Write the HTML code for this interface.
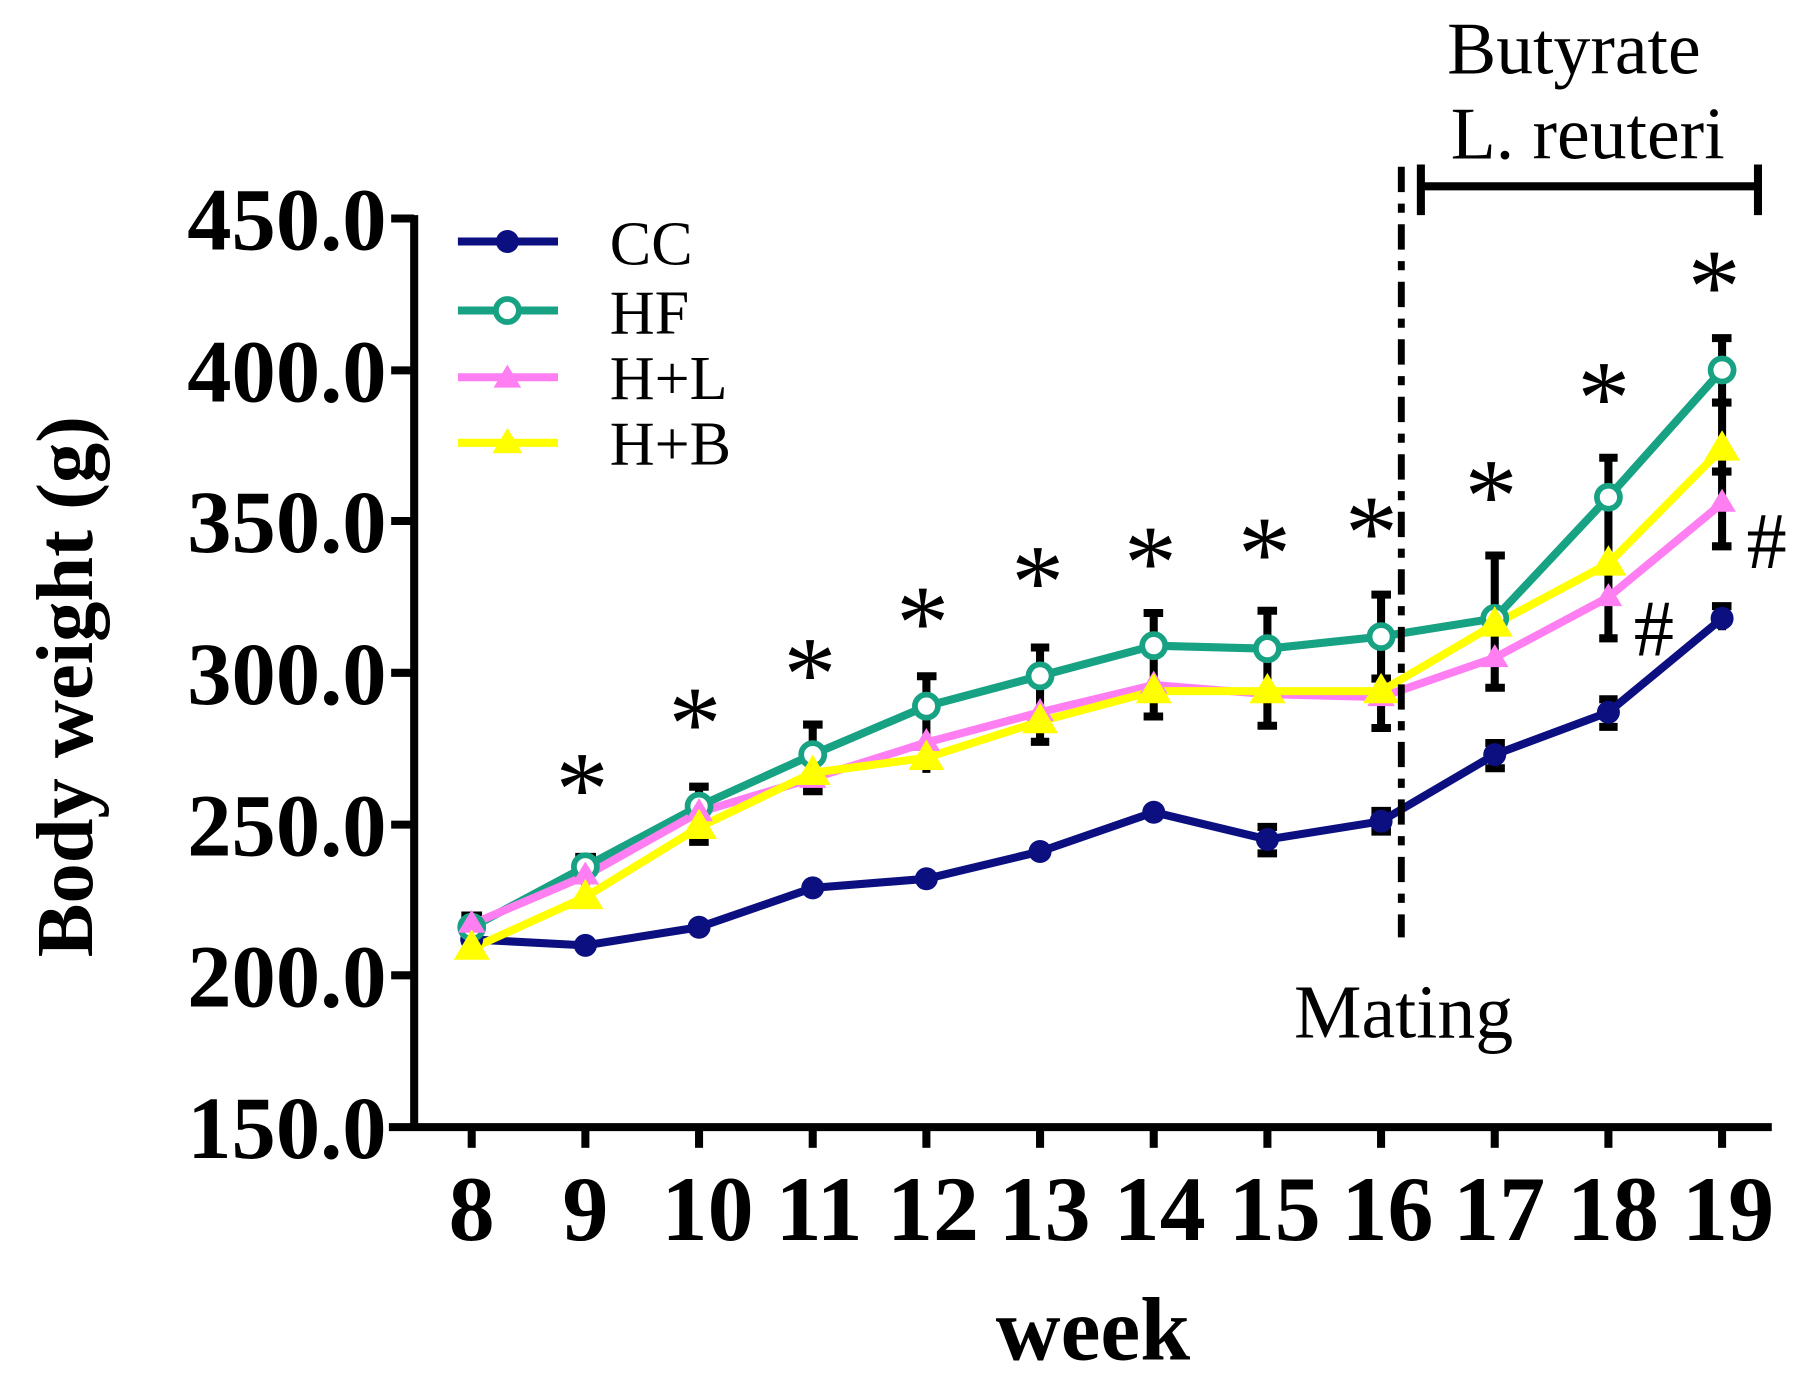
<!DOCTYPE html>
<html><head><meta charset="utf-8"><style>html,body{margin:0;padding:0;background:#fff}svg{display:block}</style></head>
<body>
<svg width="1804" height="1379" viewBox="0 0 1568 1199" preserveAspectRatio="none" xmlns="http://www.w3.org/2000/svg" font-family="'Liberation Serif', serif">
<rect width="1568" height="1199" fill="#fff"/>
<g stroke="#000" stroke-width="7" fill="none">
<line x1="360" y1="187" x2="360" y2="983"/>
<line x1="338" y1="980" x2="1540" y2="980"/>
<line x1="340" y1="190" x2="360" y2="190"/><line x1="340" y1="322" x2="360" y2="322"/>
<line x1="340" y1="453" x2="360" y2="453"/><line x1="340" y1="585" x2="360" y2="585"/>
<line x1="340" y1="717" x2="360" y2="717"/><line x1="340" y1="848" x2="360" y2="848"/>
<line x1="410" y1="980" x2="410" y2="998"/><line x1="508.8" y1="980" x2="508.8" y2="998"/>
<line x1="607.6" y1="980" x2="607.6" y2="998"/><line x1="706.4" y1="980" x2="706.4" y2="998"/>
<line x1="805.2" y1="980" x2="805.2" y2="998"/><line x1="904" y1="980" x2="904" y2="998"/>
<line x1="1002.8" y1="980" x2="1002.8" y2="998"/><line x1="1101.6" y1="980" x2="1101.6" y2="998"/>
<line x1="1200.4" y1="980" x2="1200.4" y2="998"/><line x1="1299.2" y1="980" x2="1299.2" y2="998"/>
<line x1="1398" y1="980" x2="1398" y2="998"/><line x1="1496.8" y1="980" x2="1496.8" y2="998"/>
</g>
<g font-weight="bold" font-size="77" text-anchor="end" fill="#000">
<text x="336" y="217">450.0</text><text x="336" y="349">400.0</text><text x="336" y="480">350.0</text>
<text x="336" y="612">300.0</text><text x="336" y="744">250.0</text><text x="336" y="875">200.0</text>
<text x="336" y="1007">150.0</text>
</g>
<g font-weight="bold" font-size="80" text-anchor="middle" fill="#000">
<text x="410" y="1078">8</text><text x="508.8" y="1078">9</text><text x="615" y="1078">10</text>
<text x="712" y="1078">11</text><text x="811" y="1078">12</text><text x="908" y="1078">13</text>
<text x="1008" y="1078">14</text><text x="1108" y="1078">15</text><text x="1206" y="1078">16</text>
<text x="1303" y="1078">17</text><text x="1402" y="1078">18</text><text x="1502" y="1078">19</text>
</g>
<text x="950" y="1182" font-weight="bold" font-size="78" text-anchor="middle">week</text>
<text transform="translate(80,597) rotate(-90)" font-weight="bold" font-size="70" text-anchor="middle">Body weight (g)</text>
<g stroke="#000" stroke-width="7">
<path d="M410 796V830M401 796H419M401 830H419"/>
<path d="M508.8 745V790M500 745H518"/>
<path d="M607.6 684V732M599 684H616M599 732H616"/>
<path d="M706.4 630V688M698 630H715M698 688H715"/>
<path d="M805.2 588V672M797 588H814"/>
<path d="M904 563V645M896 563H912M896 645H912"/>
<path d="M1002.8 533V623M994 533H1011M994 623H1011"/>
<path d="M1101.6 531V631M1093 531H1110M1093 631H1110"/>
<path d="M1200.4 517V633M1192 517H1209M1192 633H1209M1192 590H1209"/>
<path d="M1299.2 483V598M1291 483H1308M1291 598H1308"/>
<path d="M1398 398V555M1390 398H1406M1390 555H1406"/>
<path d="M1496.8 294V475M1488 294H1505M1488 475H1505M1488 410H1505M1488 350H1505"/>
<path d="M1200.4 705V723M1192 705H1209M1192 723H1209"/>
<path d="M1299.2 646V668M1291 646H1308M1291 668H1308"/>
<path d="M1398 608V632M1390 608H1406M1390 632H1406"/>
<path d="M1496.8 527V548M1488 527H1505"/>
<path d="M1101.6 719V742M1093 719H1110M1093 742H1110"/>
</g>
<g fill="none" stroke-width="7" stroke-linejoin="round">
<polyline stroke="#0b0f80" points="410,816.8 508.8,822 607.6,806.2 706.4,772 805.2,764.1 904,740.4 1002.8,706.2 1101.6,729.9 1200.4,714.1 1299.2,656.1 1398,619.3 1496.8,537.7"/>
<polyline stroke="#17a283" points="410,806.2 508.8,753.6 607.6,700.9 706.4,656.1 805.2,614 904,587.7 1002.8,561.4 1101.6,564 1200.4,553.5 1299.2,537.7 1398,432.3 1496.8,321.7"/>
<polyline stroke="#ff7ff2" points="410,803.6 508.8,761.5 607.6,706.2 706.4,676.7 805.2,645.6 904,619.3 1002.8,595.6 1101.6,603.5 1200.4,606.1 1299.2,571.9 1398,519.2 1496.8,437.6"/>
<polyline stroke="#ffff00" points="410,824.7 508.8,779.9 607.6,719.3 706.4,671.9 805.2,658.8 904,627.2 1002.8,600.9 1101.6,600.9 1200.4,600.9 1299.2,542.9 1398,490 1496.8,390"/>
</g>
<g fill="#0b0f80">
<circle cx="410" cy="816.8" r="10"/><circle cx="508.8" cy="822" r="10"/><circle cx="607.6" cy="806.2" r="10"/><circle cx="706.4" cy="772" r="10"/><circle cx="805.2" cy="764.1" r="10"/><circle cx="904" cy="740.4" r="10"/><circle cx="1002.8" cy="706.2" r="10"/><circle cx="1101.6" cy="729.9" r="10"/><circle cx="1200.4" cy="714.1" r="10"/><circle cx="1299.2" cy="656.1" r="10"/><circle cx="1398" cy="619.3" r="10"/><circle cx="1496.8" cy="537.7" r="10"/>
</g>
<g fill="#fff" stroke="#17a283" stroke-width="5">
<circle cx="410" cy="806.2" r="10"/><circle cx="508.8" cy="753.6" r="10"/><circle cx="607.6" cy="700.9" r="10"/><circle cx="706.4" cy="656.1" r="10"/><circle cx="805.2" cy="614" r="10"/><circle cx="904" cy="587.7" r="10"/><circle cx="1002.8" cy="561.4" r="10"/><circle cx="1101.6" cy="564" r="10"/><circle cx="1200.4" cy="553.5" r="10"/><circle cx="1299.2" cy="537.7" r="10"/><circle cx="1398" cy="432.3" r="10"/><circle cx="1496.8" cy="321.7" r="10"/>
</g>
<g fill="#ff7ff2">
<path d="M410 791l12 20h-24z M508.8 749l12 20h-24z M607.6 694l12 20h-24z M706.4 665l12 20h-24z M805.2 633l12 20h-24z M904 607l12 20h-24z M1002.8 583l12 20h-24z M1101.6 591l12 20h-24z M1200.4 594l12 20h-24z M1299.2 560l12 20h-24z M1398 507l12 20h-24z M1496.8 425l12 20h-24z"/>
</g>
<g fill="#ffff00" stroke="#ffff00" stroke-width="3">
<path d="M410 811l13 22h-26z M508.8 767l13 22h-26z M607.6 706l13 22h-26z M706.4 659l13 22h-26z M805.2 646l13 22h-26z M904 614l13 22h-26z M1002.8 588l13 22h-26z M1101.6 588l13 22h-26z M1200.4 588l13 22h-26z M1299.2 530l13 22h-26z M1398 477l13 22h-26z M1496.8 377l13 22h-26z"/>
</g>
<g font-size="92" text-anchor="middle" fill="#000">
<text x="506" y="717">*</text><text x="604" y="660">*</text><text x="704" y="617">*</text>
<text x="802" y="572">*</text><text x="902" y="537">*</text><text x="1000" y="520">*</text>
<text x="1099" y="512">*</text><text x="1192" y="494">*</text><text x="1296" y="462">*</text>
<text x="1394" y="377">*</text><text x="1490" y="280">*</text>
</g>
<g font-size="70" fill="#000">
<text x="1420" y="570">#</text><text x="1518" y="494">#</text>
</g>
<line x1="1218" y1="145" x2="1218" y2="815" stroke="#000" stroke-width="6" stroke-dasharray="22,10,8,10"/>
<text x="1220" y="902" font-size="66" text-anchor="middle">Mating</text>
<g stroke="#000" stroke-width="7">
<line x1="1235" y1="162" x2="1528" y2="162"/>
<line x1="1235" y1="143" x2="1235" y2="187"/><line x1="1528" y1="143" x2="1528" y2="187"/>
</g>
<text x="1368" y="64" font-size="64" text-anchor="middle">Butyrate</text>
<text x="1380" y="138" font-size="64" text-anchor="middle">L. reuteri</text>
<g stroke-width="7">
<line x1="398" y1="210" x2="485" y2="210" stroke="#0b0f80"/>
<line x1="398" y1="270" x2="485" y2="270" stroke="#17a283"/>
<line x1="398" y1="328" x2="485" y2="328" stroke="#ff7ff2"/>
<line x1="398" y1="385" x2="485" y2="385" stroke="#ffff00"/>
</g>
<circle cx="441" cy="210" r="10" fill="#0b0f80"/>
<circle cx="441" cy="270" r="10" fill="#fff" stroke="#17a283" stroke-width="5"/>
<path d="M441 317l12 20h-24z" fill="#ff7ff2"/>
<path d="M441 372l13 22h-26z" fill="#ffff00"/>
<g font-size="54" fill="#000">
<text x="530" y="230">CC</text><text x="530" y="290">HF</text><text x="530" y="347">H+L</text><text x="530" y="404">H+B</text>
</g>
</svg>
</body></html>
